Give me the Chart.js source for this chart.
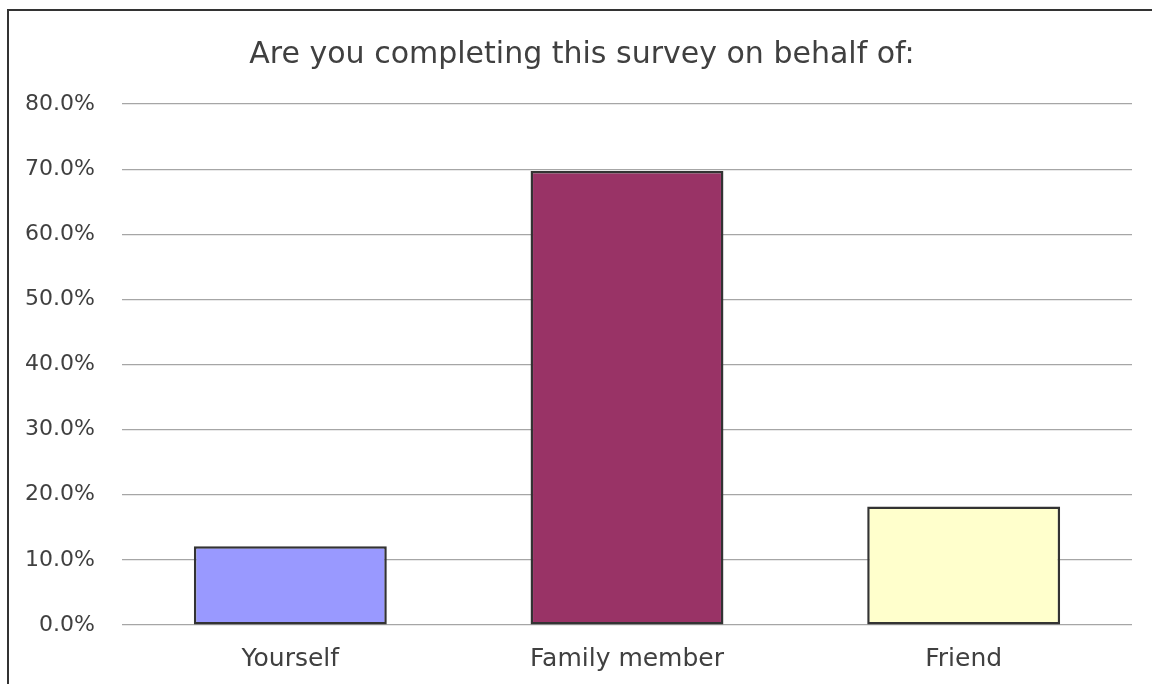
<!DOCTYPE html>
<html>
<head>
<meta charset="utf-8">
<title>Survey chart</title>
<script src="https://cdn.jsdelivr.net/npm/chart.js@4/dist/chart.umd.min.js"></script>
<style>
  html,body{margin:0;padding:0;background:#fff;}
  #wrap{position:relative;width:1152px;height:684px;}
  /* frame of the chart box: only the top and left edges fall inside the window */
  #frame{position:absolute;left:7px;top:9px;right:-10px;bottom:-10px;border-left:2px solid #333;border-top:2px solid #333;pointer-events:none;}
  canvas{position:absolute;left:0;top:0;}
</style>
</head>
<body>
<div id="wrap">
  <canvas id="surveyChart" width="1152" height="684"></canvas>
  <div id="frame"></div>
</div>
<script>
// answers and their share of responses (%)
const categories = ['Yourself', 'Family member', 'Friend'];
const shares = [12.1, 69.7, 18.2];
const barColors = ['#9999FF', '#993366', '#FFFFCC'];
const yTicks = [0, 10, 20, 30, 40, 50, 60, 70, 80];
const titleText = 'Are you completing this survey on behalf of:';

const textCol = '#404040';
const fontFam = '"DejaVu Sans", sans-serif';

// the title sits centred on the whole box, not on the plot, so draw it by hand
const boxTitle = {
  id: 'boxTitle',
  afterDraw(chart) {
    const ctx = chart.ctx;
    ctx.save();
    ctx.font = '30px ' + fontFam;
    ctx.fillStyle = textCol;
    ctx.textAlign = 'center';
    ctx.textBaseline = 'alphabetic';
    ctx.fillText(titleText, 582, 63);
    ctx.restore();
  }
};

new Chart(document.getElementById('surveyChart'), {
  type: 'bar',
  data: {
    labels: categories,
    datasets: [{
      data: shares,
      backgroundColor: barColors,
      borderColor: '#333333',
      borderWidth: 2.5,
      borderSkipped: false,
      categoryPercentage: 1,
      barPercentage: 0.573
    }]
  },
  plugins: [boxTitle],
  options: {
    responsive: false,
    animation: false,
    layout: { padding: { left: 10, right: 20, top: 104, bottom: 0 } },
    plugins: {
      legend: { display: false },
      tooltip: { enabled: false },
      title: { display: false }
    },
    scales: {
      x: {
        grid: { display: false, drawTicks: false },
        border: { display: false },
        ticks: { color: textCol, font: { family: fontFam, size: 25 }, padding: 19 },
        afterFit: s => { s.height = 59; }
      },
      y: {
        min: 0,
        max: 80,
        afterBuildTicks: s => { s.ticks = yTicks.map(v => ({ value: v })); },
        grid: { color: '#A6A6A6', lineWidth: 1.2, drawTicks: false },
        border: { display: false },
        ticks: {
          color: textCol,
          font: { family: fontFam, size: 22 },
          padding: 27,
          callback: v => v.toFixed(1) + '%'
        },
        afterFit: s => { s.width = 112; }
      }
    }
  }
});
</script>
</body>
</html>
